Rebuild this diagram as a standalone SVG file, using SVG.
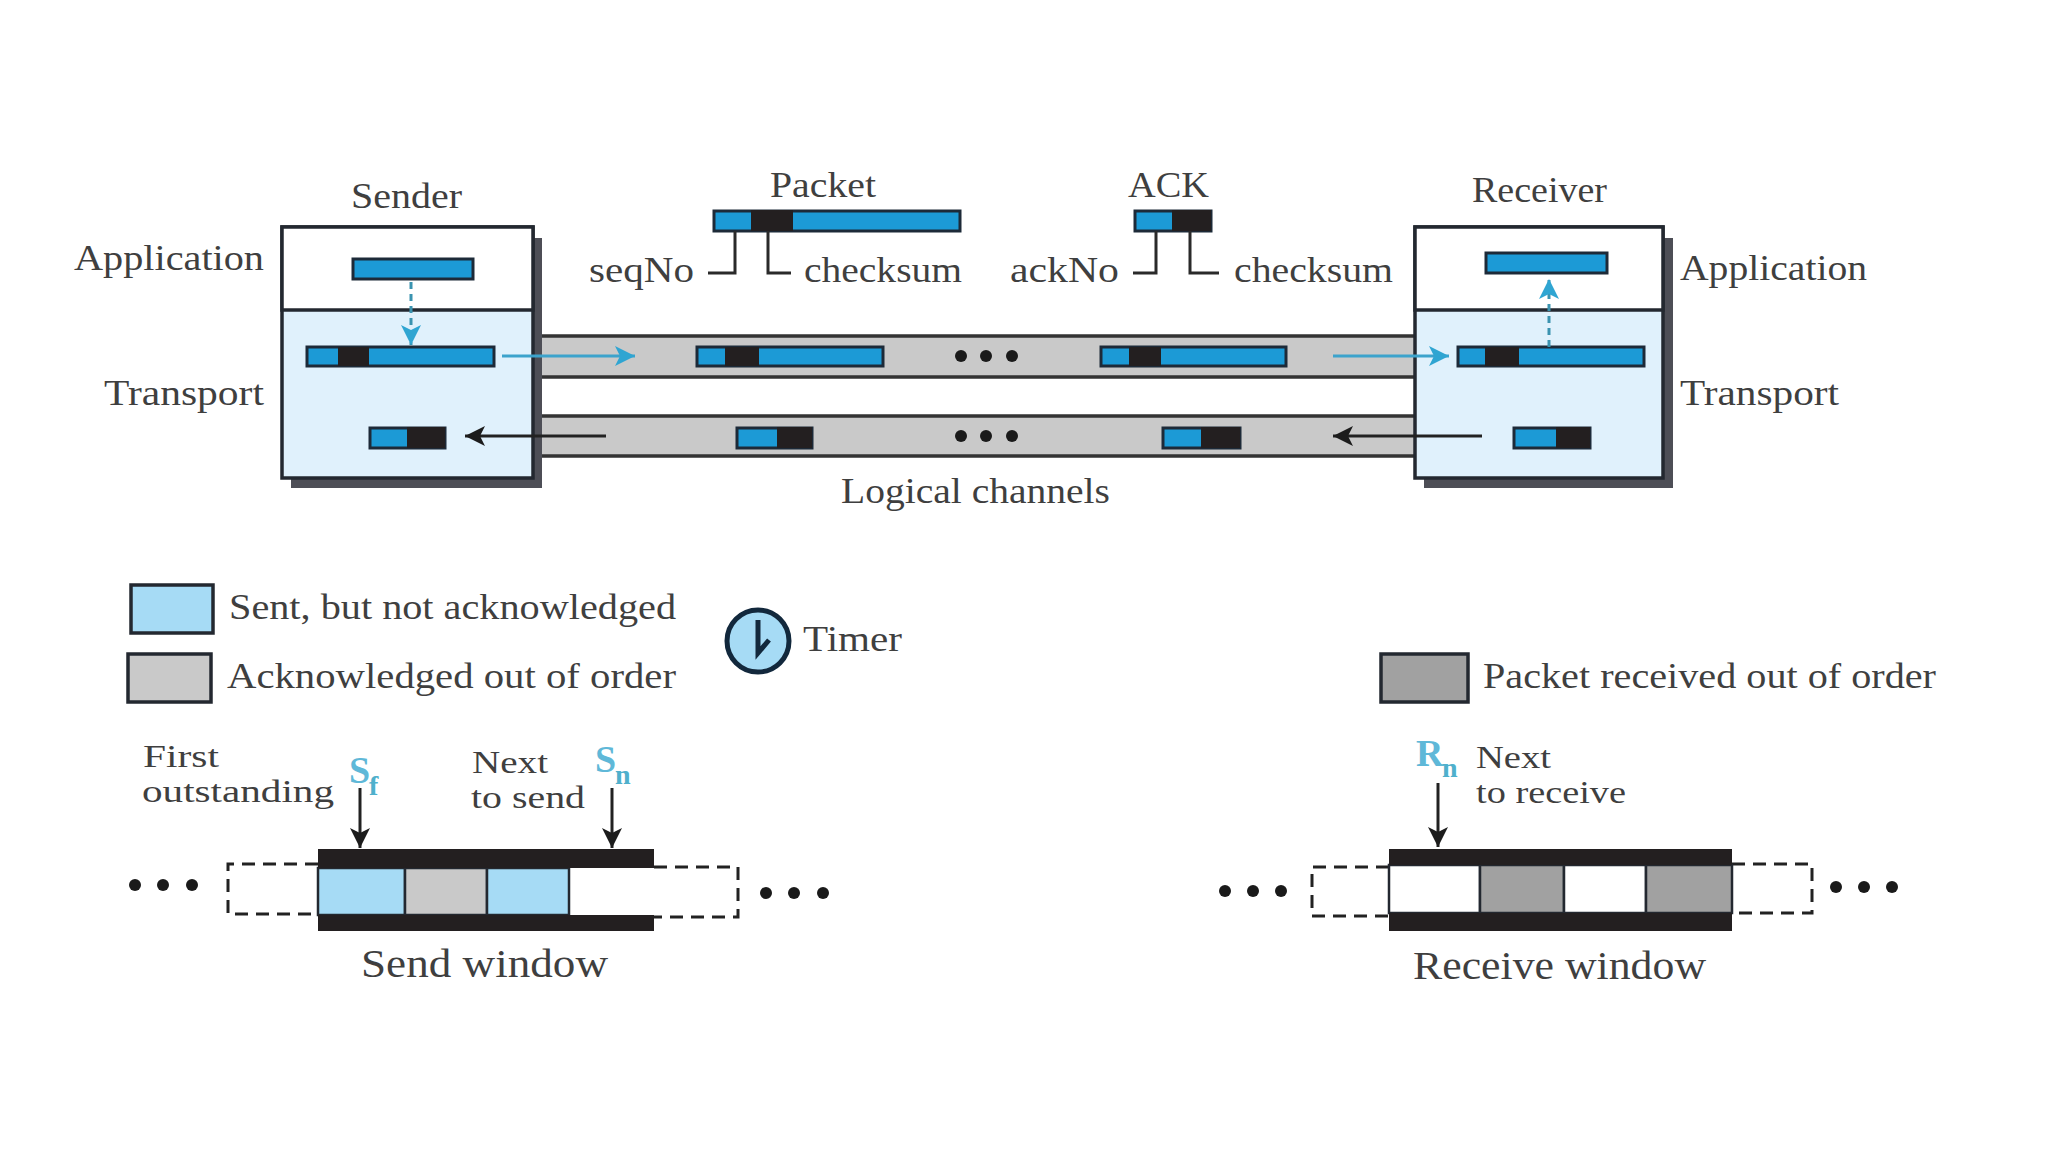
<svg xmlns="http://www.w3.org/2000/svg" width="2048" height="1152" viewBox="0 0 2048 1152">
<defs>
<style>
text{font-family:"Liberation Serif","Times New Roman",serif;font-size:36px;fill:#3f3f3f}
.big{font-size:41px}
.two{font-size:32px}
.sub{font-size:38px;font-weight:bold;fill:#5fb8d8}
.subs{font-size:28px;font-weight:bold;fill:#4fb0cc}
.blue{fill:#1c9ad6;stroke:#1d2a38;stroke-width:3}
.blk{fill:#231f20}
.box{fill:#e0f1fc;stroke:#232830;stroke-width:3.5}
.app{fill:#fff;stroke:#232830;stroke-width:3.5}
.shadow{fill:#4d4e56}
.chan{fill:#c9c9c9;stroke:none}
.edge{stroke:#333;stroke-width:3.5;fill:none}
.lead{stroke:#2a2a2a;stroke-width:3;fill:none}
.dash{stroke:#222;stroke-width:3;stroke-dasharray:13 8;fill:none}
.lb{fill:#a6dbf5;stroke:#232830;stroke-width:3.5}
.lg{fill:#c9c9c9;stroke:#232830;stroke-width:3.5}
.dg{fill:#a1a1a1;stroke:#232830;stroke-width:3.5}
.wc{stroke:#232830;stroke-width:2.5}
.dot{fill:#1a1a1a}
.ba{stroke:#3ca3cc;stroke-width:3;fill:none;marker-end:url(#ah-blue)}
.bd{stroke:#3a93b0;stroke-width:3;stroke-dasharray:7 5;fill:none;marker-end:url(#ah-blue)}
.ka{stroke:#222;stroke-width:3;fill:none;marker-end:url(#ah-black)}
</style>
<marker id="ah-blue" markerUnits="userSpaceOnUse" markerWidth="24" markerHeight="24" refX="20" refY="10" orient="auto"><path d="M0 0L20 10L0 20L5 10Z" fill="#2fa5d2"/></marker>
<marker id="ah-black" markerUnits="userSpaceOnUse" markerWidth="24" markerHeight="24" refX="20" refY="10" orient="auto"><path d="M0 0L20 10L0 20L5 10Z" fill="#1c1c1c"/></marker>
</defs>
<rect width="2048" height="1152" fill="#fff"/>

<g id="channels">
<rect class="chan" x="540" y="336" width="880" height="41"/>
<rect class="chan" x="540" y="416" width="880" height="40"/>
<path class="edge" d="M540 336H1416M540 377H1416M540 416H1416M540 456H1416"/>
</g>

<g id="sender">
<rect class="shadow" x="291" y="238" width="251" height="250"/>
<rect class="box" x="282" y="227" width="251" height="251"/>
<rect class="app" x="282" y="227" width="251" height="83"/>
<rect class="blue" x="353" y="259" width="120" height="20"/>
<rect class="blue" x="307" y="347" width="187" height="19"/><rect class="blk" x="338" y="347" width="31" height="19"/>
<rect class="blue" x="370" y="428" width="75" height="20"/><rect class="blk" x="407" y="427" width="38" height="21"/>
<text x="351" y="208" textLength="111" lengthAdjust="spacingAndGlyphs">Sender</text>
<text x="74" y="270" textLength="190" lengthAdjust="spacingAndGlyphs">Application</text>
<text x="104" y="405" textLength="160" lengthAdjust="spacingAndGlyphs">Transport</text>
</g>

<g id="receiver">
<rect class="shadow" x="1424" y="238" width="249" height="250"/>
<rect class="box" x="1415" y="227" width="248" height="251"/>
<rect class="app" x="1415" y="227" width="248" height="83"/>
<rect class="blue" x="1486" y="253" width="121" height="20"/>
<rect class="blue" x="1458" y="347" width="186" height="19"/><rect class="blk" x="1485" y="347" width="34" height="19"/>
<rect class="blue" x="1514" y="428" width="76" height="20"/><rect class="blk" x="1556" y="427" width="34" height="21"/>
<text x="1472" y="202" textLength="135" lengthAdjust="spacingAndGlyphs">Receiver</text>
<text x="1680" y="280" textLength="187" lengthAdjust="spacingAndGlyphs">Application</text>
<text x="1680" y="405" textLength="159" lengthAdjust="spacingAndGlyphs">Transport</text>
</g>

<g id="packet-format">
<rect class="blue" x="714" y="211" width="246" height="20"/><rect class="blk" x="751" y="210" width="42" height="21"/>
<path class="lead" d="M735 231V273H708M768 231V273H791"/>
<text x="770" y="197" textLength="106" lengthAdjust="spacingAndGlyphs">Packet</text>
<text x="589" y="282" textLength="105" lengthAdjust="spacingAndGlyphs">seqNo</text>
<text x="804" y="282" textLength="158" lengthAdjust="spacingAndGlyphs">checksum</text>
</g>

<g id="ack-format">
<rect class="blue" x="1135" y="211" width="76" height="20"/><rect class="blk" x="1172" y="210" width="39" height="21"/>
<path class="lead" d="M1156 231V273H1133M1190 231V273H1219"/>
<text x="1128" y="197" textLength="81" lengthAdjust="spacingAndGlyphs">ACK</text>
<text x="1010" y="282" textLength="109" lengthAdjust="spacingAndGlyphs">ackNo</text>
<text x="1234" y="282" textLength="159" lengthAdjust="spacingAndGlyphs">checksum</text>
</g>

<g id="packets-in-channels">
<rect class="blue" x="697" y="347" width="186" height="19"/><rect class="blk" x="725" y="347" width="34" height="19"/>
<rect class="blue" x="1101" y="347" width="185" height="19"/><rect class="blk" x="1129" y="347" width="32" height="19"/>
<rect class="blue" x="737" y="428" width="75" height="20"/><rect class="blk" x="777" y="427" width="35" height="21"/>
<rect class="blue" x="1163" y="428" width="77" height="20"/><rect class="blk" x="1201" y="427" width="39" height="21"/>
<circle class="dot" cx="961" cy="356" r="6"/><circle class="dot" cx="986" cy="356" r="6"/><circle class="dot" cx="1012" cy="356" r="6"/>
<circle class="dot" cx="961" cy="436" r="6"/><circle class="dot" cx="986" cy="436" r="6"/><circle class="dot" cx="1012" cy="436" r="6"/>
<text x="841" y="503" textLength="269" lengthAdjust="spacingAndGlyphs">Logical channels</text>
</g>

<g id="connectors">
<path class="bd" d="M411 282V345"/>
<path class="bd" d="M1549 347V279"/>
<path class="ba" d="M502 356H635"/>
<path class="ba" d="M1333 356H1449"/>
<path class="ka" d="M606 436H465"/>
<path class="ka" d="M1482 436H1333"/>
<path class="ka" d="M360 788V848"/>
<path class="ka" d="M612 788V848"/>
<path class="ka" d="M1438 783V847"/>
</g>

<g id="legend-sent">
<rect class="lb" x="131" y="585" width="82" height="48"/>
<text x="229" y="619" textLength="447" lengthAdjust="spacingAndGlyphs">Sent, but not acknowledged</text>
</g>
<g id="legend-ack">
<rect class="lg" x="128" y="654" width="83" height="48"/>
<text x="227" y="688" textLength="449" lengthAdjust="spacingAndGlyphs">Acknowledged out of order</text>
</g>
<g id="legend-timer">
<circle cx="758" cy="641" r="31" fill="#a6dbf5" stroke="#12283c" stroke-width="5"/>
<path d="M758 620V653L769 640" fill="none" stroke="#12283c" stroke-width="5"/>
<text x="803" y="651" textLength="99" lengthAdjust="spacingAndGlyphs">Timer</text>
</g>
<g id="legend-received">
<rect class="dg" x="1381" y="654" width="87" height="48"/>
<text x="1483" y="688" textLength="453" lengthAdjust="spacingAndGlyphs">Packet received out of order</text>
</g>

<g id="send-window">
<path class="dash" d="M318 864H228V914H318"/>
<path class="dash" d="M654 867H738V917H654"/>
<rect fill="#fff" x="318" y="868" width="336" height="47"/>
<rect class="wc" x="318" y="868" width="87" height="47" fill="#a6dbf5"/>
<rect class="wc" x="405" y="868" width="82" height="47" fill="#c9c9c9"/>
<rect class="wc" x="487" y="868" width="82" height="47" fill="#a6dbf5"/>
<rect class="blk" x="318" y="849" width="336" height="19"/>
<rect class="blk" x="318" y="915" width="336" height="16"/>
<circle class="dot" cx="135" cy="885" r="6"/><circle class="dot" cx="163" cy="885" r="6"/><circle class="dot" cx="192" cy="885" r="6"/>
<circle class="dot" cx="766" cy="893" r="6"/><circle class="dot" cx="794" cy="893" r="6"/><circle class="dot" cx="823" cy="893" r="6"/>
<text class="two" x="143" y="767" textLength="76" lengthAdjust="spacingAndGlyphs">First</text>
<text class="two" x="142" y="802" textLength="192" lengthAdjust="spacingAndGlyphs">outstanding</text>
<text class="sub" x="349" y="783">S</text><text class="subs" x="369" y="795">f</text>
<text class="two" x="472" y="773" textLength="76" lengthAdjust="spacingAndGlyphs">Next</text>
<text class="two" x="471" y="808" textLength="114" lengthAdjust="spacingAndGlyphs">to send</text>
<text class="sub" x="595" y="772">S</text><text class="subs" x="615" y="784">n</text>
<text class="big" x="361" y="977" textLength="247" lengthAdjust="spacingAndGlyphs">Send window</text>
</g>

<g id="receive-window">
<path class="dash" d="M1389 867H1312V916H1389"/>
<path class="dash" d="M1732 864H1812V913H1732"/>
<rect x="1389" y="865" width="91" height="48" fill="#fff" class="wc"/>
<rect x="1480" y="865" width="84" height="48" fill="#a1a1a1" class="wc"/>
<rect x="1564" y="865" width="82" height="48" fill="#fff" class="wc"/>
<rect x="1646" y="865" width="86" height="48" fill="#a1a1a1" class="wc"/>
<rect class="blk" x="1389" y="849" width="343" height="16"/>
<rect class="blk" x="1389" y="913" width="343" height="18"/>
<circle class="dot" cx="1225" cy="891" r="6"/><circle class="dot" cx="1253" cy="891" r="6"/><circle class="dot" cx="1281" cy="891" r="6"/>
<circle class="dot" cx="1836" cy="887" r="6"/><circle class="dot" cx="1864" cy="887" r="6"/><circle class="dot" cx="1892" cy="887" r="6"/>
<text class="sub" x="1416" y="766">R</text><text class="subs" x="1442" y="777">n</text>
<text class="two" x="1476" y="768" textLength="75" lengthAdjust="spacingAndGlyphs">Next</text>
<text class="two" x="1476" y="803" textLength="150" lengthAdjust="spacingAndGlyphs">to receive</text>
<text class="big" x="1413" y="979" textLength="293" lengthAdjust="spacingAndGlyphs">Receive window</text>
</g>
</svg>
